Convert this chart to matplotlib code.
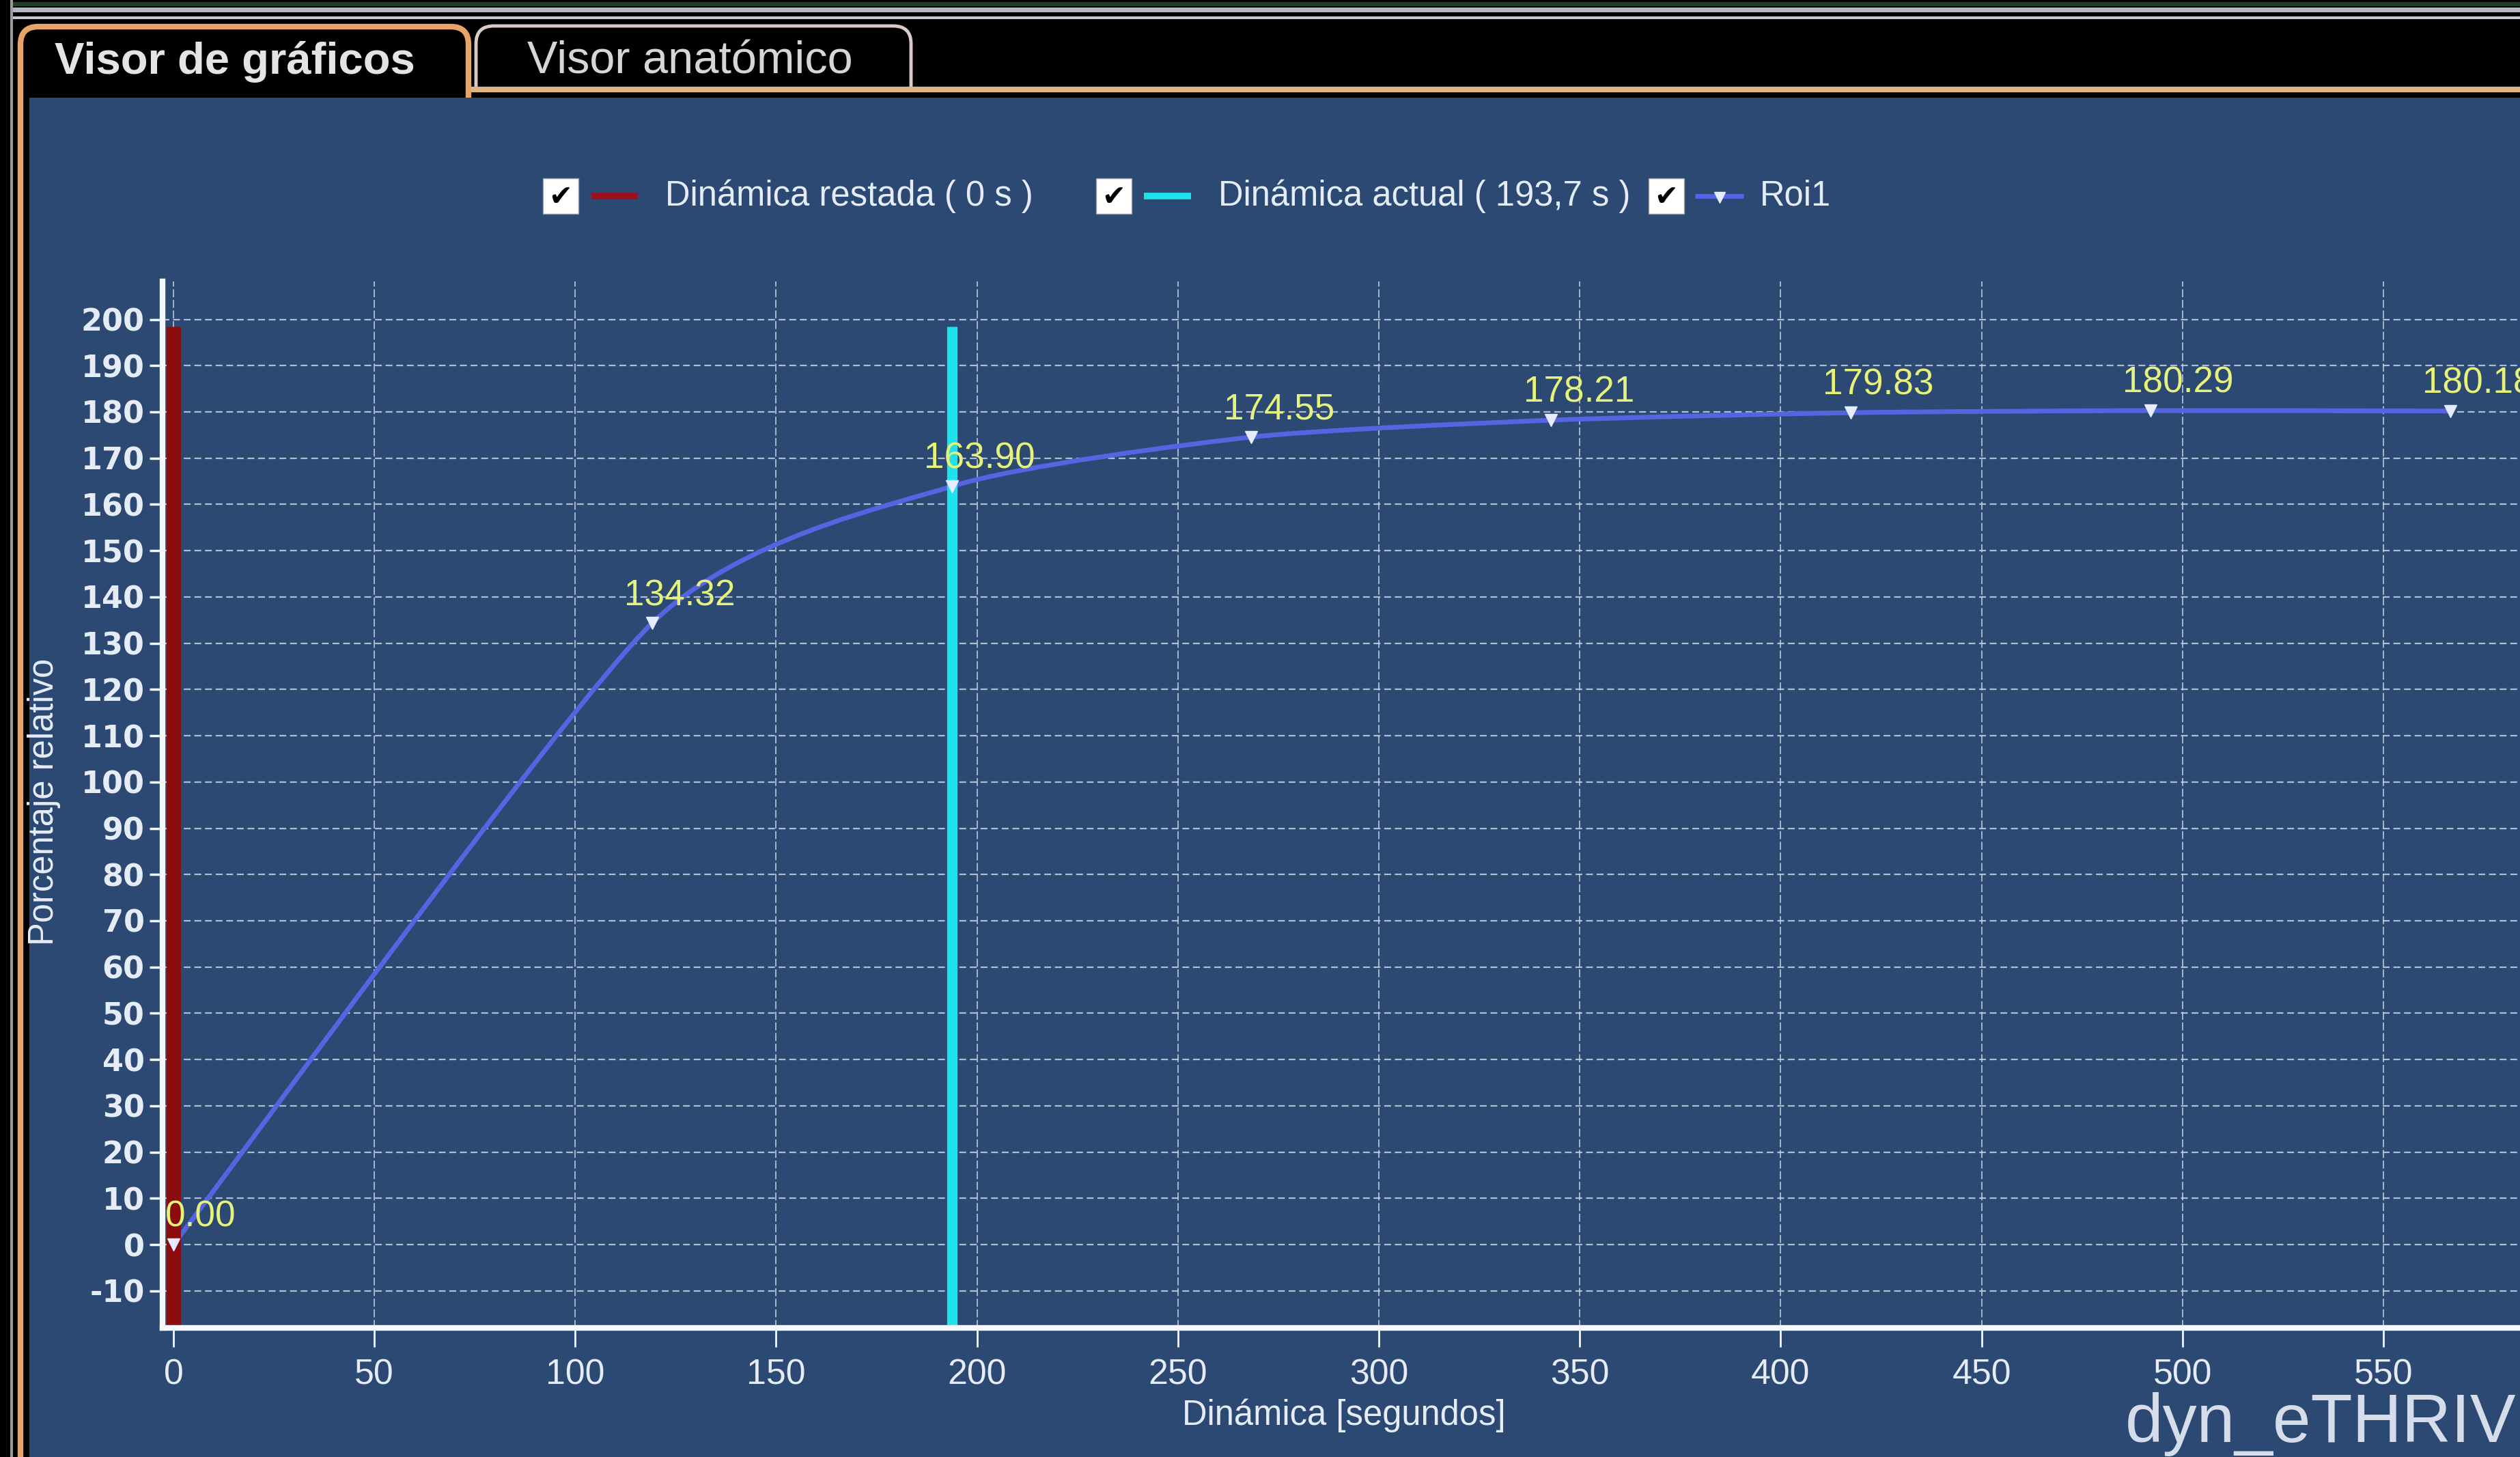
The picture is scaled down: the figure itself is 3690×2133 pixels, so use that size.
import numpy as np
import matplotlib.pyplot as plt
from matplotlib import font_manager
from matplotlib.patches import Rectangle, PathPatch
from matplotlib.path import Path

#########################################################
# Data: Roi1 relative enhancement per dynamic
#########################################################
tiempos = [0.0, 119.1, 193.7, 268.3, 342.9, 417.5, 492.1, 566.7]
porcentajes = [0.00, 134.32, 163.90, 174.55, 178.21, 179.83, 180.29, 180.18]

dinamica_restada = 0.0      # s
dinamica_actual = 193.7     # s
tope_marcadores = 198.5     # top of the dynamic markers (%)

x_ticks = list(range(0, 551, 50))
y_ticks = list(range(-10, 201, 10))

#########################################################
# Figure / fonts
#########################################################
W, H, DPI = 3690, 2133, 100
plt.rcParams['axes.unicode_minus'] = False
names = {f.name for f in font_manager.fontManager.ttflist}
narrow = 'Liberation Sans Narrow' if 'Liberation Sans Narrow' in names else 'Liberation Sans'
nscale = 1.0 if narrow == 'Liberation Sans Narrow' else 0.85

bg_blue = '#2B4973'
txt = '#E6ECF6'

fig = plt.figure(figsize=(W / DPI, H / DPI), dpi=DPI)
fig.patch.set_facecolor(bg_blue)

# window chrome drawn in pixel coordinates
ui = fig.add_axes([0, 0, 1, 1])
ui.set_xlim(0, W)
ui.set_ylim(H, 0)
ui.axis('off')
ui.add_patch(Rectangle((0, 0), W, 143, color='black', lw=0))
ui.add_patch(Rectangle((0, 0), 43, H, color='black', lw=0))
ui.add_patch(Rectangle((15, 0), 4, H, color='#9A9A9A', lw=0))
ui.add_patch(Rectangle((19, 3), W, 6, color='#1E3E30', lw=0))
ui.add_patch(Rectangle((19, 11), W, 7, color='#B4B4C4', lw=0))
ui.add_patch(Rectangle((19, 24), W, 4, color='#C8C8D2', lw=0))

def tab_path(x0, x1, ytop, ybot_left, ybot_right, r=26):
    v = [(x0, ybot_left), (x0, ytop + r), (x0, ytop), (x0 + r, ytop),
         (x1 - r, ytop), (x1, ytop), (x1, ytop + r), (x1, ybot_right)]
    c = [Path.MOVETO, Path.LINETO, Path.CURVE3, Path.CURVE3,
         Path.LINETO, Path.CURVE3, Path.CURVE3, Path.LINETO]
    return Path(v, c)

ui.plot([690, W], [131, 131], color='#DDB585', lw=6, solid_capstyle='butt')
ui.add_patch(PathPatch(tab_path(697, 1334, 38, 131, 131), fill=False, ec='#D9CCC8', lw=3.5))
ui.add_patch(PathPatch(tab_path(30, 686, 39, H, 143), fill=False, ec='#E6A466', lw=6))
ui.add_patch(Rectangle((36, 143), 7, H, color='black', lw=0))
ui.text(80, 108, 'Visor de gráficos', family='Liberation Sans', weight='bold',
        fontsize=47, color='#E4E4E4', va='baseline')
ui.text(772, 108, 'Visor anatómico', family='Liberation Sans', fontsize=48,
        color='#D6D6D6', va='baseline')

#########################################################
# Legend row with check boxes
#########################################################
ly = 287
leg_font = dict(family=narrow, fontsize=43 * nscale, color=txt, va='center')

def checkbox(x):
    ui.add_patch(Rectangle((x, ly - 26), 52, 52, fc='white', ec='#A0A0A0', lw=1))
    ui.text(x + 26, ly + 2, '\u2714', family='DejaVu Sans', fontsize=30,
            color='black', ha='center', va='center')

checkbox(795)
ui.plot([866, 934], [ly, ly], color='#9A1020', lw=7, solid_capstyle='butt')
ui.text(974, ly, f'Dinámica restada ( {dinamica_restada:g} s )', **leg_font)
checkbox(1605)
ui.plot([1675, 1744], [ly, ly], color='#1EE3EC', lw=7, solid_capstyle='butt')
ui.text(1784, ly, f'Dinámica actual ( {dinamica_actual:.1f} s )'.replace('.', ','), **leg_font)
checkbox(2414)
ui.plot([2482, 2553], [ly, ly], color='#5564E1', lw=5, solid_capstyle='butt')
ui.plot([2518], [ly + 2], ls='none', marker='v', ms=12, color='#E6ECFF')
ui.text(2577, ly, 'Roi1', **leg_font)

ui.text(3112, 2111, 'dyn_eTHRIV', family='Liberation Sans', fontsize=72,
        color='#D5DDEB', va='baseline')

#########################################################
# Chart
#########################################################
ax = fig.add_axes([238 / W, 1 - 1944 / H, 1 - 238 / W, (1944 - 412) / H])
ax.patch.set_alpha(0)
ax.set_xlim(-2.7, 584)
ax.set_ylim(-18, 208.2)

for s in ['top', 'right']:
    ax.spines[s].set_visible(False)
for s in ['left', 'bottom']:
    ax.spines[s].set_color('#F4F8FF')
    ax.spines[s].set_linewidth(6)
    ax.spines[s].set_zorder(6)

ax.set_xticks(x_ticks)
ax.set_yticks(y_ticks)
ax.tick_params(axis='x', direction='out', length=20, width=2, color='#F4F8FF',
               pad=12, labelcolor=txt, labelsize=44 * nscale)
ax.tick_params(axis='y', direction='out', length=14, width=2.5, color='#F4F8FF',
               pad=5, labelcolor=txt, labelsize=32)
for lab in ax.get_xticklabels():
    lab.set_family(narrow)
for lab in ax.get_yticklabels():
    lab.set_family('DejaVu Sans')
    lab.set_weight('bold')

for y in y_ticks:
    ax.axhline(y, color='#C8D2E4', lw=1.6, dashes=(4.5, 2.5), alpha=0.85, zorder=1)
for x in x_ticks:
    ax.axvline(x, color='#C8D2E4', lw=1.4, dashes=(6, 2), alpha=0.8, zorder=1)

ax.set_xlabel('Dinámica [segundos]', family=narrow, fontsize=43 * nscale, color=txt)
ax.xaxis.set_label_coords(0.501, -0.084)
ax.xaxis.label.set_va('center')
ax.set_ylabel('Porcentaje relativo', family=narrow, fontsize=43 * nscale, color=txt)
ax.yaxis.set_label_coords(-0.0504, 0.5026)
ax.yaxis.label.set_va('center')

# dynamic markers
ymin = ax.get_ylim()[0]
ax.vlines(dinamica_restada, ymin, tope_marcadores, color='#8A0C0C', lw=15, zorder=3)
ax.vlines(dinamica_actual, ymin, tope_marcadores, color='#1EE3EC', lw=11, zorder=3)

# Roi1 curve as a low-tension cardinal spline through the samples
pts = np.column_stack([tiempos, porcentajes])
verts, codes = [pts[0]], [Path.MOVETO]
n = len(pts)
k = 1 / 9
for i in range(n - 1):
    p0, p1 = pts[max(i - 1, 0)], pts[i]
    p2, p3 = pts[i + 1], pts[min(i + 2, n - 1)]
    verts += [p1 + (p2 - p0) * k, p2 - (p3 - p1) * k, p2]
    codes += [Path.CURVE4] * 3
ax.add_patch(PathPatch(Path(verts, codes), fill=False, ec='#5564E1', lw=5, zorder=2.5))
ax.plot(tiempos, porcentajes, ls='none', marker='v', ms=13, color='#E6ECFF', zorder=4)

for x, v in zip(tiempos, porcentajes):
    ax.annotate(f'{v:.2f}', (x, v), xytext=(29, 29), textcoords='offset points',
                ha='center', va='center', color='#E6F27A', family=narrow,
                fontsize=45 * nscale, zorder=5, annotation_clip=False)

plt.savefig('out.png', dpi=DPI, facecolor=fig.get_facecolor())
